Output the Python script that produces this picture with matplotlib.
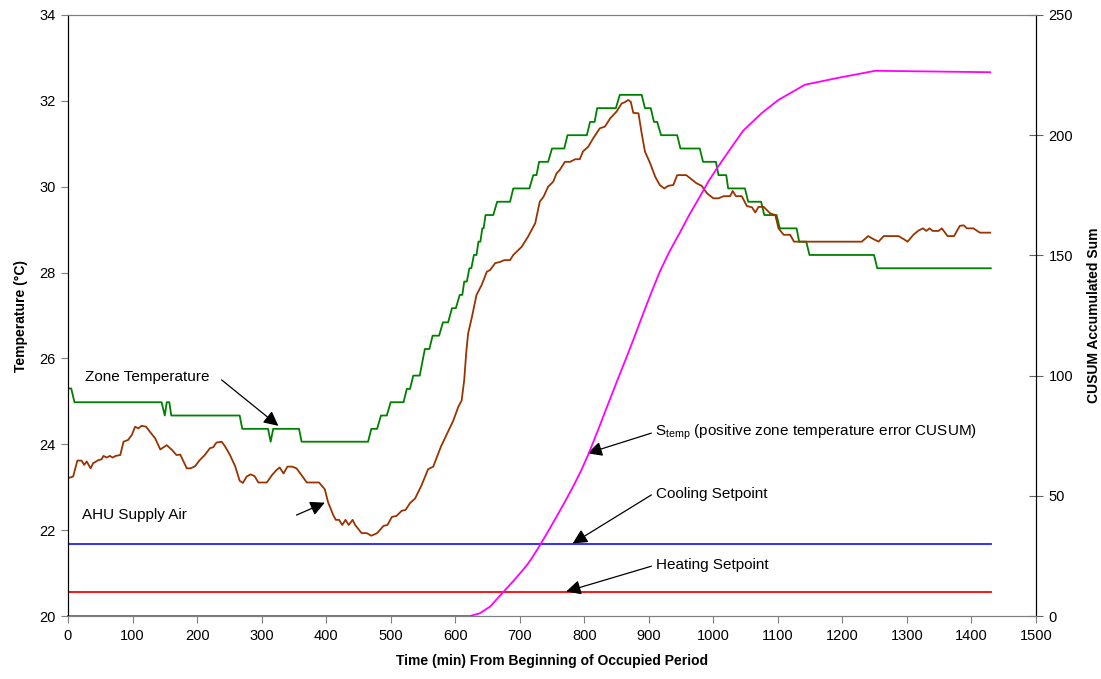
import matplotlib
matplotlib.use('Agg')
import matplotlib.pyplot as plt
import numpy as np

plt.rcParams['font.family'] = ['Liberation Sans', 'DejaVu Sans']
plt.rcParams['mathtext.fontset'] = 'custom'
plt.rcParams['mathtext.rm'] = 'Liberation Sans'

# zone temperature (stepped sensor readings), deg C
zone_t = [0, 5, 10, 145, 150, 153, 157, 160, 266, 270, 310, 314, 318, 358, 362, 465, 470, 479, 485, 494,
          500, 520, 525, 530, 535, 545, 553, 560, 565, 575, 581, 589, 595, 601, 607, 611, 614, 618, 622, 625,
          629, 633, 636, 639, 642, 644, 647, 659, 665, 685, 690, 715, 721, 726, 730, 744, 750, 769, 774, 804,
          809, 816, 820, 849, 855, 889, 894, 903, 908, 913, 919, 944, 949, 979, 984, 1004, 1008, 1020, 1023,
          1049, 1054, 1074, 1079, 1098, 1103, 1129, 1133, 1144, 1149, 1249, 1254, 1430]
zone_temp = [25.30, 25.30, 24.98, 24.98, 24.67, 24.98, 24.98, 24.67, 24.67, 24.36, 24.36, 24.06, 24.36, 24.36,
             24.06, 24.06, 24.36, 24.36, 24.67, 24.67, 24.98, 24.98, 25.29, 25.29, 25.60, 25.60, 26.22, 26.22,
             26.53, 26.53, 26.84, 26.84, 27.17, 27.17, 27.48, 27.48, 27.79, 27.79, 28.10, 28.10, 28.41, 28.41,
             28.72, 28.72, 29.03, 29.03, 29.34, 29.34, 29.65, 29.65, 29.96, 29.96, 30.27, 30.27, 30.58, 30.58,
             30.89, 30.89, 31.20, 31.20, 31.51, 31.51, 31.83, 31.83, 32.14, 32.14, 31.83, 31.83, 31.51, 31.51,
             31.20, 31.20, 30.89, 30.89, 30.58, 30.58, 30.27, 30.27, 29.96, 29.96, 29.65, 29.65, 29.34, 29.34,
             29.03, 29.03, 28.72, 28.72, 28.41, 28.41, 28.10, 28.10]

# AHU supply air temperature, deg C
ahu_t = [0, 8, 14.5, 21, 25, 29, 35, 39, 47, 52, 55, 60, 65, 69, 74, 81, 86, 93, 99, 104, 109, 114, 121, 127,
         135, 143, 148, 153, 161, 168, 174, 184, 190, 197, 204, 212, 220, 225, 230, 238, 243, 251, 259, 266,
         271, 277, 283, 289, 295, 308, 316, 323, 328, 334, 340, 347, 354, 360, 370, 389, 398, 403, 411, 415,
         420, 425, 430, 435, 441, 445, 455, 463, 470, 479, 489, 495, 502, 509, 517, 523, 530, 538, 548, 558,
         566, 578, 589, 597, 605, 610, 614, 617, 620, 626, 633, 641, 649, 654, 662, 670, 676, 685, 690, 703,
         713, 724, 731, 737, 744, 752, 757, 762, 770, 778, 786, 793, 798, 806, 814, 824, 832, 840, 850, 858,
         863, 868, 872, 876, 884, 889, 894, 902, 910, 917, 924, 930, 938, 944, 958, 974, 982, 990, 1000, 1008,
         1016, 1026, 1030, 1035, 1044, 1052, 1060, 1065, 1070, 1078, 1088, 1096, 1101, 1109, 1119, 1125, 1230,
         1240, 1248, 1256, 1264, 1287, 1295, 1301, 1310, 1318, 1325, 1330, 1335, 1340, 1349, 1354, 1363, 1373,
         1382, 1388, 1393, 1403, 1413, 1429]
ahu_temp = [23.21, 23.25, 23.62, 23.62, 23.52, 23.60, 23.44, 23.56, 23.63, 23.65, 23.73, 23.69, 23.73, 23.69,
            23.73, 23.75, 24.06, 24.10, 24.22, 24.41, 24.37, 24.43, 24.41, 24.29, 24.14, 23.88, 23.93, 23.98,
            23.87, 23.75, 23.76, 23.44, 23.44, 23.49, 23.63, 23.75, 23.91, 23.93, 24.04, 24.06, 23.96, 23.75,
            23.49, 23.15, 23.10, 23.25, 23.30, 23.26, 23.11, 23.11, 23.28, 23.40, 23.46, 23.32, 23.48, 23.48,
            23.44, 23.32, 23.11, 23.11, 22.95, 22.65, 22.35, 22.24, 22.24, 22.12, 22.24, 22.12, 22.24, 22.12,
            21.93, 21.93, 21.87, 21.93, 22.10, 22.12, 22.31, 22.33, 22.45, 22.47, 22.63, 22.74, 23.05, 23.42,
            23.48, 23.95, 24.30, 24.55, 24.88, 25.02, 25.50, 26.12, 26.58, 26.97, 27.48, 27.71, 28.02, 28.06,
            28.22, 28.25, 28.29, 28.29, 28.41, 28.60, 28.84, 29.15, 29.65, 29.77, 30.00, 30.12, 30.31, 30.39,
            30.58, 30.58, 30.64, 30.64, 30.82, 30.93, 31.13, 31.36, 31.40, 31.59, 31.75, 31.94, 31.97, 32.02,
            31.98, 31.72, 31.71, 31.24, 30.82, 30.55, 30.23, 30.04, 29.96, 30.02, 30.04, 30.27, 30.27, 30.08,
            30.02, 29.85, 29.73, 29.73, 29.78, 29.78, 29.90, 29.78, 29.78, 29.55, 29.52, 29.40, 29.53, 29.53,
            29.38, 29.34, 29.03, 28.88, 28.88, 28.72, 28.72, 28.85, 28.78, 28.72, 28.85, 28.85, 28.78, 28.72,
            28.88, 28.98, 29.03, 28.97, 29.03, 28.97, 28.97, 29.03, 28.85, 28.85, 29.09, 29.10, 29.03, 29.03,
            28.93, 28.93]

# positive zone temperature error CUSUM
cusum_t = [0, 623, 638, 654, 675, 690, 700, 711, 720, 731, 744, 757, 770, 783, 795, 806, 823, 840, 853, 866,
           879, 891, 904, 917, 932, 948, 963, 979, 992, 1005, 1023, 1046, 1075, 1101, 1142, 1196, 1251, 1429]
cusum = [0, 0, 1.1, 3.9, 10.1, 14.5, 17.6, 21.1, 24.6, 29.3, 35.2, 41.3, 47.5, 54.0, 60.4, 67.0, 78.5, 90.3,
         99.2, 108.0, 117.0, 125.6, 134.6, 143.2, 151.6, 159.4, 167.0, 174.4, 180.6, 186.0, 193.0, 201.8, 209.2,
         214.7, 221.0, 224.0, 226.8, 226.2]

setpoint_t = [0, 1430]
cooling_sp = [21.67, 21.67]
heating_sp = [20.56, 20.56]

fig = plt.figure(figsize=(11.01, 6.79), dpi=100)
ax = fig.add_axes([68 / 1101, 1 - 616 / 679, 968 / 1101, 601 / 679])
ax2 = ax.twinx()

ax.plot(setpoint_t, heating_sp, color='#ff0000', lw=1.3)
ax.plot(setpoint_t, cooling_sp, color='#2020ff', lw=1.3)
ax.plot(zone_t, zone_temp, color='#008000', lw=1.3)
ax.plot(ahu_t, ahu_temp, color='#993300', lw=1.3)
ax2.plot(cusum_t, cusum, color='#ff00ff', lw=1.3, clip_on=False)

ax.set_xlim(0, 1500)
ax.set_ylim(20, 34)
ax2.set_ylim(0, 250)
ax.set_xticks(np.arange(0, 1501, 100))
ax.set_yticks(np.arange(20, 35, 2))
ax2.set_yticks(np.arange(0, 251, 50))

for a in (ax, ax2):
    a.spines['top'].set_color('#808080')
    a.spines['bottom'].set_color('#808080')
    a.spines['left'].set_color('black')
    a.spines['right'].set_color('black')
ax.tick_params(axis='x', direction='out', length=5, color='#808080', labelsize=10.5, pad=4)
ax.tick_params(axis='y', direction='out', length=5, color='#808080', labelsize=10.5, pad=4)
ax2.tick_params(axis='y', direction='inout', length=10, color='#606060', labelsize=10.5, pad=4)

ax.set_xlabel('Time (min) From Beginning of Occupied Period', fontsize=10, fontweight='bold', labelpad=8)
ax.set_ylabel('Temperature (°C)', fontsize=10, fontweight='bold', labelpad=8)
ax2.set_ylabel('CUSUM Accumulated Sum', fontsize=10, fontweight='bold', labelpad=10)

ax.text(26, 25.57, 'Zone Temperature', fontsize=11, ha='left', va='center')
ax.text(22, 22.35, 'AHU Supply Air', fontsize=11, ha='left', va='center')
ax.text(909, 24.29, r'S$_\mathrm{temp}$ (positive zone temperature error CUSUM)', fontsize=11,
        ha='left', va='center')
ax.text(911, 22.84, 'Cooling Setpoint', fontsize=11, ha='left', va='center')
ax.text(911, 21.19, 'Heating Setpoint', fontsize=11, ha='left', va='center')

arrow = dict(arrowstyle='-|>', color='black', lw=0.9, mutation_scale=22, shrinkA=0, shrinkB=0)
ax.annotate('', xy=(326, 24.43), xytext=(238, 25.50), arrowprops=arrow)
ax.annotate('', xy=(398, 22.64), xytext=(354, 22.35), arrowprops=arrow)
ax.annotate('', xy=(805, 23.79), xytext=(904, 24.26), arrowprops=arrow)
ax.annotate('', xy=(782, 21.69), xytext=(904, 22.82), arrowprops=arrow)
ax.annotate('', xy=(772, 20.57), xytext=(904, 21.16), arrowprops=arrow)

plt.savefig('out.png', dpi=100)
